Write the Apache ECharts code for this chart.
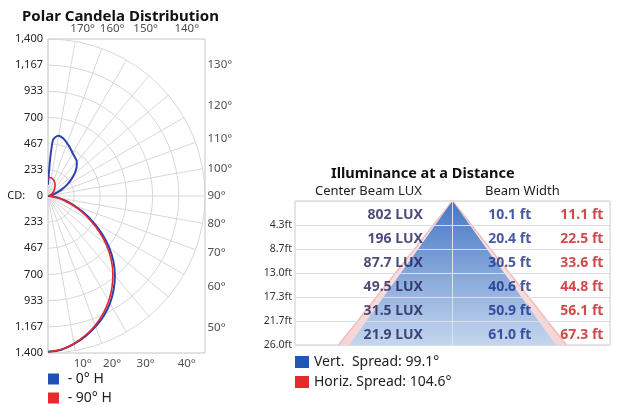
<!DOCTYPE html>
<html><head><meta charset="utf-8">
<script src="https://cdn.jsdelivr.net/npm/echarts@6/dist/echarts.min.js"></script>
<style>html,body{margin:0;padding:0;background:#fff}#c{width:619px;height:405px}</style>
</head><body><div id="c"></div>
<script>
// ---------------- data ----------------
const polarAngles = [0,5,10,15,20,25,30,35,40,45,50,55,60,65,70,75,80,85,90,95,100,105,110,115,120,125,130,135,140,145,150,155,160,165,170,175,180];
const candela0H  = [1390,1376,1340,1295,1240,1178,1105,1020,928,825,710,588,465,350,248,162,96,45,15,8,15,40,80,130,190,250,310,360,400,420,440,470,500,530,545,500,100];
const candela90H = [1390,1374,1336,1287,1228,1160,1082,995,900,795,680,560,440,330,228,145,82,36,10,5,8,15,22,32,42,55,68,80,92,110,125,138,150,158,165,165,155];
const radialTickLabels = ['1,400','1,167','933','700','467','233','CD:    0','233','467','700','933','1.167','1.400'];
const angleTickLabels = [10,20,30,40,50,60,70,80,90,100,110,120,130,140,150,160,170];
const distances      = [4.3, 8.7, 13.0, 17.3, 21.7, 26.0];
const centerBeamLux  = [802, 196, 87.7, 49.5, 31.5, 21.9];
const vertBeamWidth  = [10.1, 20.4, 30.5, 40.6, 50.9, 61.0];
const horizBeamWidth = [11.1, 22.5, 33.6, 44.8, 56.1, 67.3];
const vertSpread = 99.1;
const horizSpread = 104.6;

// ---------------- chart ----------------
const FONT = 'Noto Sans';
const chart = echarts.init(document.getElementById('c'), null, {renderer: 'canvas'});

const nameV = 'Vert.  Spread: ' + vertSpread + '°';
const nameH = 'Horiz. Spread: ' + horizSpread + '°';

// angle label anchors where each ray meets the plot box (box = 6 rings wide, +-6 rings tall)
const angleLabelData = angleTickLabels.map(a => {
  const t = a * Math.PI / 180;
  const sx = Math.sin(t), sy = -Math.cos(t);
  const k = Math.min(sx > 1e-9 ? 6 / sx : Infinity, Math.abs(sy) > 1e-9 ? 6 / Math.abs(sy) : Infinity);
  const x = sx * k, y = sy * k;
  let pos;
  if (Math.abs(x - 6) < 1e-6) pos = 'right'; else if (y < 0) pos = 'bottom'; else pos = 'top';
  return {value: [x, y], name: a + '°',
    label: {position: pos, distance: pos === 'right' ? 2 : 4, offset: pos === 'right' ? [0, 0] : [7, 0]}};
});

function triangle(widths) {
  const pts = [];
  for (let i = widths.length - 1; i >= 0; i--) pts.push([-widths[i] / 2, distances[i]]);
  pts.push([0, 0]);
  for (let i = 0; i < widths.length; i++) pts.push([widths[i] / 2, distances[i]]);
  return pts;
}
const rowMid = distances.map((d, i) => { const p = i === 0 ? 0 : distances[i - 1]; return (p + d) / 2; });
const fmt1 = v => v.toFixed(1);

const tableText = (col, arr, fn, color) => ({
  type: 'scatter', xAxisIndex: 1, yAxisIndex: 1, symbolSize: 1, silent: true, z: 6,
  itemStyle: {color: 'rgba(0,0,0,0)'},
  data: arr.map((v, i) => ({value: [col, rowMid[i]], name: fn(v)})),
  label: {show: true, position: 'left', distance: 0, offset: [0, 2], formatter: '{b}',
          color: color, fontSize: 14, fontWeight: 'bold', fontFamily: FONT}
});

const option = {
  animation: false,
  backgroundColor: '#fff',
  textStyle: {fontFamily: FONT},
  title: [
    {text: 'Polar Candela Distribution', left: 22, top: 9, padding: 0,
     textStyle: {fontSize: 15, fontWeight: 'bold', color: '#111', fontFamily: FONT}},
    {text: 'Illuminance at a Distance', left: 331, top: 166, padding: 0,
     textStyle: {fontSize: 14.5, fontWeight: 'bold', color: '#111', fontFamily: FONT}},
    {text: 'Center Beam LUX', left: 315, top: 185, padding: 0,
     textStyle: {fontSize: 13, fontWeight: 'normal', color: '#222', fontFamily: FONT}},
    {text: 'Beam Width', left: 485, top: 185, padding: 0,
     textStyle: {fontSize: 13, fontWeight: 'normal', color: '#222', fontFamily: FONT}}
  ],
  legend: [
    {data: [{name: '0° H', itemStyle: {color: '#2150b4'}}, {name: '90° H', itemStyle: {color: '#e8282c'}}],
     orient: 'vertical', left: 48, top: 372, height: 40, itemWidth: 11, itemHeight: 11, itemGap: 5, icon: 'rect',
     padding: 0, selectedMode: false, formatter: ' - {name}',
     textStyle: {fontSize: 14, lineHeight: 12, color: '#222', fontFamily: FONT}},
    {data: [{name: nameV, itemStyle: {color: '#2156b5'}}, {name: nameH, itemStyle: {color: '#e52a2a'}}],
     orient: 'vertical', left: 295, top: 355, height: 45, itemWidth: 14, itemHeight: 12, itemGap: 6, icon: 'rect',
     padding: 0, selectedMode: false,
     textStyle: {fontSize: 14, lineHeight: 12, color: '#222', fontFamily: FONT}}
  ],
  polar: {center: [48, 196], radius: 157},
  angleAxis: {type: 'value', min: 0, max: 180, interval: 10, startAngle: -90, endAngle: 90, clockwise: false,
    axisLine: {show: false}, axisTick: {show: false}, axisLabel: {show: false},
    splitLine: {show: true, lineStyle: {color: '#d8d8d8', width: 1}}},
  radiusAxis: {type: 'value', min: 0, max: 1400, interval: 1400 / 6,
    axisLine: {show: false}, axisTick: {show: false}, axisLabel: {show: false},
    splitLine: {show: true, lineStyle: {color: '#d8d8d8', width: 1}}},
  grid: [
    {left: 48, top: 39, width: 157, height: 314, show: true, borderColor: '#c6c6c6', borderWidth: 1,
     backgroundColor: 'rgba(0,0,0,0)'},
    {left: 295, top: 201, width: 315, height: 144, show: true, borderColor: '#cfcfcf', borderWidth: 1,
     backgroundColor: '#fff'}
  ],
  xAxis: [
    {gridIndex: 0, type: 'value', min: 0, max: 6, show: false},
    {gridIndex: 1, type: 'value', min: -46.5, max: 46.5, interval: 46.5, z: 3,
     axisLine: {show: false}, axisTick: {show: false}, axisLabel: {show: false},
     splitLine: {show: true, lineStyle: {color: '#dbe3ee', width: 1}}}
  ],
  yAxis: [
    {gridIndex: 0, type: 'value', min: -6, max: 6, interval: 1,
     axisLine: {show: false}, axisTick: {show: false}, splitLine: {show: false},
     axisLabel: {showMinLabel: true, showMaxLabel: true, margin: 5, color: '#222', fontSize: 11, fontFamily: FONT,
       formatter: v => radialTickLabels[6 - Math.round(v)]}},
    {gridIndex: 1, type: 'value', min: 0, max: 26, interval: 26 / 6, inverse: true, z: 3,
     axisLine: {show: false}, axisTick: {show: false},
     splitLine: {show: true, lineStyle: {color: '#dcdfe4', width: 1}},
     axisLabel: {margin: 3, color: '#333', fontSize: 10.5, fontFamily: FONT,
       formatter: v => { const k = Math.round(v / (26 / 6)); return k === 0 ? '' : fmt1(distances[k - 1]) + 'ft'; }}}
  ],
  series: [
    {type: 'line', name: '0° H', coordinateSystem: 'polar', symbol: 'none', smooth: 0.3, z: 3,
     data: polarAngles.map((a, i) => [candela0H[i], a]),
     lineStyle: {color: '#2e40b2', width: 2}, itemStyle: {color: '#2e40b2'}},
    {type: 'line', name: '90° H', coordinateSystem: 'polar', symbol: 'none', smooth: 0.3, z: 4,
     data: polarAngles.map((a, i) => [candela90H[i], a]),
     lineStyle: {color: '#e0282c', width: 1.6}, itemStyle: {color: '#e0282c'}},
    {type: 'scatter', xAxisIndex: 0, yAxisIndex: 0, symbolSize: 1, silent: true, clip: false, z: 6,
     itemStyle: {color: 'rgba(0,0,0,0)'}, data: angleLabelData,
     label: {show: true, formatter: '{b}', color: '#222', fontSize: 11.5, fontFamily: FONT}},
    {type: 'line', name: nameH, xAxisIndex: 1, yAxisIndex: 1, symbol: 'none', z: 1, silent: true,
     data: triangle(horizBeamWidth),
     lineStyle: {color: '#f2bcbd', width: 1.5},
     areaStyle: {origin: 'end', opacity: 1, color: new echarts.graphic.LinearGradient(0, 0, 0, 1,
       [{offset: 0, color: '#fbeaea'}, {offset: 1, color: '#f6d4d4'}])}},
    {type: 'line', name: nameV, xAxisIndex: 1, yAxisIndex: 1, symbol: 'none', z: 2, silent: true,
     data: triangle(vertBeamWidth),
     lineStyle: {width: 0, color: '#4f80cb'},
     areaStyle: {origin: 'end', opacity: 1, color: new echarts.graphic.LinearGradient(0, 0, 0, 1,
       [{offset: 0, color: '#4677c6'}, {offset: 1, color: '#c4d6ee'}])}},
    tableText(-8.6, centerBeamLux, v => v + ' LUX', '#1f1f58'),
    tableText(23.4, vertBeamWidth, v => fmt1(v) + ' ft', '#182f8c'),
    tableText(44.7, horizBeamWidth, v => fmt1(v) + ' ft', '#c41c1e')
  ]
};
chart.setOption(option);
</script>
</body></html>
